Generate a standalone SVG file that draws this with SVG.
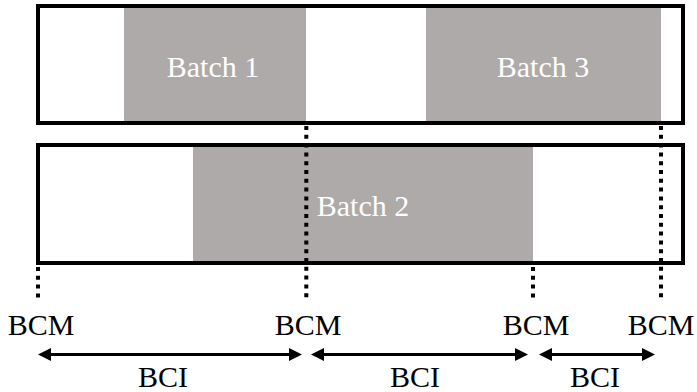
<svg xmlns="http://www.w3.org/2000/svg" width="697" height="392" viewBox="0 0 697 392">
  <style>
    .lane { fill: none; stroke: #000; stroke-width: 4; }
    .batch { fill: #aeaaa9; }
    .batch-label { font-family: "Liberation Serif", "Times New Roman", serif; font-size: 30px; fill: #fff; text-anchor: middle; }
    .label { font-family: "Liberation Serif", "Times New Roman", serif; font-size: 30px; fill: #000; text-anchor: middle; }
    .guide { stroke: #000; stroke-width: 4; stroke-dasharray: 4 4.8; fill: none; }
    .span { stroke: #000; stroke-width: 3; fill: none; marker-start: url(#head); marker-end: url(#head); }
  </style>
  <defs>
    <marker id="head" viewBox="0 0 13 13" refX="7" refY="6.5" markerWidth="13" markerHeight="13" markerUnits="userSpaceOnUse" orient="auto-start-reverse">
      <path d="M0,0 L13,6.5 L0,13 Z" fill="#000"/>
    </marker>
  </defs>

  <rect width="697" height="392" fill="#fff"/>

  <!-- upper lane -->
  <g id="batch1">
    <rect class="batch" x="124" y="8" width="182" height="113"/>
    <text class="batch-label" x="213" y="77">Batch 1</text>
  </g>
  <g id="batch3">
    <rect class="batch" x="426" y="8" width="235" height="113"/>
    <text class="batch-label" x="543" y="77">Batch 3</text>
  </g>
  <g id="lane-top">
    <rect class="lane" x="38" y="6" width="645" height="117"/>
  </g>

  <!-- lower lane -->
  <g id="batch2">
    <rect class="batch" x="193" y="147" width="340" height="114"/>
    <text class="batch-label" x="363" y="216">Batch 2</text>
  </g>
  <g id="lane-bottom">
    <rect class="lane" x="38" y="145" width="645" height="118"/>
  </g>

  <!-- connectors: BCM markers and BCI spans -->
  <g id="connectors">
    <line class="guide" x1="38" y1="267" x2="38" y2="300"/>
    <line class="guide" x1="306.3" y1="126" x2="306.3" y2="300"/>
    <line class="guide" x1="533" y1="267" x2="533" y2="300"/>
    <line class="guide" x1="661" y1="126" x2="661" y2="300"/>

    <line class="span" x1="44" y1="354.5" x2="296" y2="354.5"/>
    <line class="span" x1="317" y1="354.5" x2="522" y2="354.5"/>
    <line class="span" x1="545" y1="354.5" x2="649" y2="354.5"/>
  </g>

  <g id="bcm-labels">
    <text class="label" x="41" y="335">BCM</text>
    <text class="label" x="308" y="335">BCM</text>
    <text class="label" x="536" y="335">BCM</text>
    <text class="label" x="661" y="335">BCM</text>
  </g>
  <g id="bci-labels">
    <text class="label" x="163" y="387">BCI</text>
    <text class="label" x="415" y="387">BCI</text>
    <text class="label" x="595" y="387">BCI</text>
  </g>
</svg>
